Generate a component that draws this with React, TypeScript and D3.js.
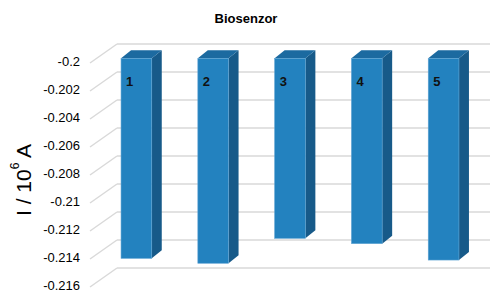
import { scaleBand, scaleLinear } from 'd3';

const categories = ['1', '2', '3', '4', '5'];
const values = [-0.21429, -0.21464, -0.21286, -0.21324, -0.21441];
const yTicks = [-0.2, -0.202, -0.204, -0.206, -0.208, -0.21, -0.212, -0.214, -0.216];

const W = 493;
const H = 292;
const font = 'Liberation Sans, Arial, sans-serif';

// back wall scale
const y = scaleLinear().domain([-0.216, -0.2]).range([268, 44]);
// depth offsets: front edge of floor, bar front plane
const depth = { dx: -27, dy: 19 };
const barPlane = { dx: -20, dy: 14.3 };
const barDepth = { dx: 10, dy: -8 };

const x = scaleBand<string>()
  .domain(categories)
  .range([98, 482])
  .paddingInner(0.6)
  .paddingOuter(0.3);

const wallLeft = 117;
const wallRight = 490;

export default function App() {
  const top = y(-0.2) + barPlane.dy;
  return (
    <svg
      width={W}
      height={H}
      style={{ position: 'absolute', left: 0, top: 0, background: '#fff' }}
      fontFamily={font}
    >
      <text x={246} y={18} textAnchor="middle" dominantBaseline="central" fontSize={13} fontWeight="bold">
        Biosenzor
      </text>

      {yTicks.map((t) => (
        <g key={t}>
          <line x1={wallLeft} x2={wallRight} y1={y(t)} y2={y(t)} stroke="#d9d9d9" strokeWidth={1.5} />
          <line
            x1={wallLeft + depth.dx}
            y1={y(t) + depth.dy}
            x2={wallLeft}
            y2={y(t)}
            stroke="#d9d9d9"
            strokeWidth={1.5}
          />
          <text x={80} y={y(t) + depth.dy - 1.5} textAnchor="end" dominantBaseline="central" fontSize={13} fill="#000">
            {String(t)}
          </text>
        </g>
      ))}

      {categories.map((c, i) => {
        const x0 = (x(c) ?? 0);
        const x1 = x0 + x.bandwidth();
        const yb = y(values[i]) + barPlane.dy;
        const { dx, dy } = barDepth;
        return (
          <g key={c}>
            <polygon
              points={`${x1},${top} ${x1},${yb} ${x1 + dx},${yb + dy} ${x1 + dx},${top + dy}`}
              fill="#175a89"
            />
            <polygon
              points={`${x0},${top} ${x1},${top} ${x1 + dx},${top + dy} ${x0 + dx},${top + dy}`}
              fill="#1c6aa0"
            />
            <rect x={x0} y={top} width={x1 - x0} height={yb - top} fill="#2382bf" stroke="#5fa3d3" strokeWidth={0.6} />
            <text x={x0 + 5} y={top + 23} dominantBaseline="central" fontSize={13} fontWeight="bold" fill="#111">
              {c}
            </text>
          </g>
        );
      })}

      <text
        transform="translate(23,180) rotate(-90)"
        textAnchor="middle"
        dominantBaseline="central"
        fontSize={21}
        fill="#000"
      >
        I / 10<tspan fontSize={12} dy={-8}>6</tspan>
        <tspan dy={8}> A</tspan>
      </text>
    </svg>
  );
}
